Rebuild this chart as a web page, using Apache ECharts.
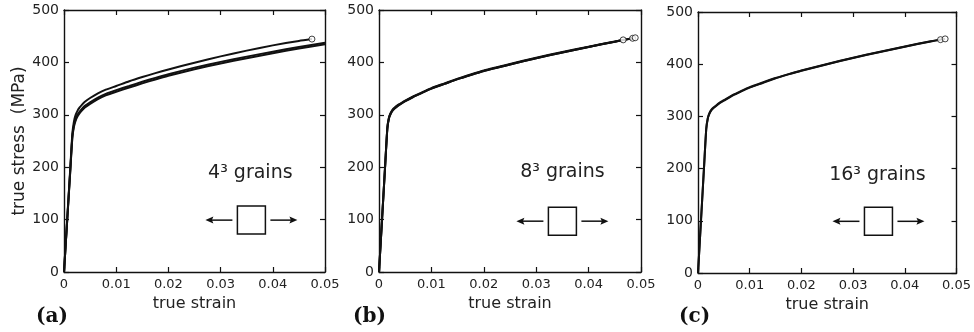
<!DOCTYPE html>
<html>
<head>
<meta charset="utf-8">
<script src="https://cdn.jsdelivr.net/npm/echarts@6/dist/echarts.min.js"></script>
<style>
  html, body { margin: 0; padding: 0; background: #fff; }
  #chart { width: 974px; height: 332px; }
</style>
</head>
<body>
<div id="chart"></div>
<script>
// strain samples shared by every curve (end point of each curve is listed separately)
const strainGrid = [0, 0.0006, 0.0012, 0.0016, 0.0019, 0.0022, 0.0026, 0.003, 0.0035, 0.004, 0.005, 0.0065, 0.008, 0.01, 0.0125, 0.015, 0.0175, 0.02, 0.025, 0.03, 0.035, 0.04, 0.045];

// (a) 4^3 grains
const stressA1 = [0, 99, 198, 264, 287, 299, 308, 314, 320, 325, 332, 341, 348, 355, 364, 372, 379.5, 386.5, 399.5, 411.5, 422.5, 432.5, 441];
const endA1 = [0.0475, 444.5];
const stressA2 = [0, 97, 194, 259, 280, 291, 300, 306, 312, 317, 324, 333, 340, 347, 355, 363, 370.5, 377.5, 390, 401, 411, 420.5, 429.5];
const endA2 = [0.05, 437.5];
const stressA3 = [0, 96, 192, 256, 277, 288, 297, 303, 309, 314, 321, 330, 337, 344, 352, 360, 367.5, 374.5, 387, 398, 408, 417.5, 426.5];
const endA3 = [0.05, 434.5];

// (b) 8^3 grains
const stressB1 = [0, 104, 208, 275, 294, 302, 309, 313, 317, 320, 326, 334, 341, 350, 359, 368, 376, 383.5, 396, 408, 419, 429.5, 439.5];
const endB1 = [0.0466, 443];
const stressB2 = [0, 103, 207, 274, 293, 301, 308, 312, 316, 320, 326, 334, 341, 350, 359, 368, 376, 383.5, 396, 408, 419, 429.5, 439.5];
const endB2 = [0.0484, 446];
const stressB3 = [0, 104, 208, 276, 295, 303, 310, 314, 318, 321, 327, 335, 342, 351, 360, 369, 377, 384.5, 397, 409, 420, 430, 440];
const endB3 = [0.0489, 447];

// (c) 16^3 grains
const stressC1 = [0, 104, 208, 276, 296, 305, 312, 316, 320, 324, 330, 339, 346, 355, 364, 373, 380.5, 387.5, 400, 412, 423, 433.5, 443.5];
const endC1 = [0.0469, 447];
const stressC2 = [0, 104, 209, 277, 297, 306, 313, 317, 321, 325, 331, 340, 347, 356, 365, 373.5, 381, 388, 400.5, 412.5, 423.5, 434, 444];
const endC2 = [0.0478, 448.5];

const xTickLabels = ["0", "0.01", "0.02", "0.03", "0.04", "0.05"];
const yTickLabels = ["0", "100", "200", "300", "400", "500"];
const grainLabels = ["4³ grains", "8³ grains", "16³ grains"];
const panelLabels = ["(a)", "(b)", "(c)"];

const panels = [
  { curves: [[stressA1, endA1, true], [stressA2, endA2, false], [stressA3, endA3, false]] },
  { curves: [[stressB1, endB1, true], [stressB2, endB2, true], [stressB3, endB3, true]] },
  { curves: [[stressC1, endC1, true], [stressC2, endC2, true]] }
];

// layout
const grids = [
  { left: 64, top: 10, width: 261, height: 262 },
  { left: 379, top: 10, width: 262, height: 262 },
  { left: 698, top: 12, width: 262, height: 261 }
];
const annoBox = [[0.0359, 99], [0.035, 97], [0.0349, 99]];
const annoText = [[0.0357, 189], [0.035, 190], [0.0347, 188]];
const panelLabelX = [36, 353, 679];

const ink = "#111";
const font = "DejaVu Sans";

const tickStyle = { inside: true, length: 5, lineStyle: { color: ink, width: 1.2 } };
const lineStyle = { color: ink, width: 1.4 };

const xAxes = [];
const yAxes = [];
const series = [];

panels.forEach((p, i) => {
  xAxes.push({
    gridIndex: i, type: "value", min: 0, max: 0.05, interval: 0.01, position: "bottom",
    axisLine: { onZero: false, lineStyle }, axisTick: tickStyle, splitLine: { show: false },
    axisLabel: {
      color: "#222", fontSize: 13, fontFamily: font, margin: 6, showMaxLabel: true,
      formatter: (v) => xTickLabels[Math.round(v / 0.01)]
    },
    name: "true strain", nameLocation: "middle", nameGap: 23,
    nameTextStyle: { color: "#222", fontSize: 16, fontFamily: font }
  });
  xAxes.push({
    gridIndex: i, type: "value", min: 0, max: 0.05, interval: 0.01, position: "top",
    axisLine: { onZero: false, lineStyle }, axisTick: tickStyle, splitLine: { show: false },
    axisLabel: { show: false }
  });
  yAxes.push({
    gridIndex: i, type: "value", min: 0, max: 500, interval: 100, position: "left",
    axisLine: { show: true, onZero: false, lineStyle }, axisTick: tickStyle, splitLine: { show: false },
    axisLabel: {
      color: "#222", fontSize: 14, fontFamily: font, margin: 5,
      formatter: (v) => yTickLabels[Math.round(v / 100)]
    },
    name: i === 0 ? "true stress  (MPa)" : "", nameLocation: "middle", nameGap: 34,
    nameTextStyle: { color: "#222", fontSize: 17, fontFamily: font }
  });
  yAxes.push({
    gridIndex: i, type: "value", min: 0, max: 500, interval: 100, position: "right",
    axisLine: { show: true, onZero: false, lineStyle }, axisTick: tickStyle, splitLine: { show: false },
    axisLabel: { show: false }
  });

  const ends = [];
  p.curves.forEach(([stress, end, marked]) => {
    const data = strainGrid.map((s, k) => [s, stress[k]]).concat([end]);
    series.push({
      type: "line", xAxisIndex: 2 * i, yAxisIndex: 2 * i, data,
      showSymbol: false, smooth: 0.2,
      lineStyle: { color: ink, width: 2 }, silent: true, animation: false
    });
    if (marked) ends.push(end);
  });
  series.push({
    type: "scatter", xAxisIndex: 2 * i, yAxisIndex: 2 * i, data: ends,
    symbol: "circle", symbolSize: 6,
    itemStyle: { color: "#fff", borderColor: ink, borderWidth: 1 },
    silent: true, animation: false, z: 3
  });
});

const chart = echarts.init(document.getElementById("chart"), null, { renderer: "canvas" });
chart.setOption({
  animation: false,
  backgroundColor: "#fff",
  grid: grids,
  xAxis: xAxes,
  yAxis: yAxes,
  series
});

// annotations: grain count, loading sketch, panel letter
const graphic = [];
panels.forEach((p, i) => {
  const [bx, by] = chart.convertToPixel({ gridIndex: i }, annoBox[i]);
  const [tx, ty] = chart.convertToPixel({ gridIndex: i }, annoText[i]);
  const st = { stroke: ink, lineWidth: 1.5, fill: null };
  graphic.push(
    { type: "text", x: tx, y: ty, style: { text: grainLabels[i], fontSize: 19, fontFamily: font, fill: "#222", align: "center", verticalAlign: "middle" } },
    { type: "rect", shape: { x: bx - 14, y: by - 14, width: 28, height: 28 }, style: { stroke: ink, lineWidth: 1.5, fill: "none" } },
    { type: "line", shape: { x1: bx - 19, y1: by, x2: bx - 41, y2: by }, style: st },
    { type: "polygon", shape: { points: [[bx - 46, by], [bx - 38, by - 3.5], [bx - 39.5, by], [bx - 38, by + 3.5]] }, style: { fill: ink } },
    { type: "line", shape: { x1: bx + 19, y1: by, x2: bx + 41, y2: by }, style: st },
    { type: "polygon", shape: { points: [[bx + 46, by], [bx + 38, by - 3.5], [bx + 39.5, by], [bx + 38, by + 3.5]] }, style: { fill: ink } },
    { type: "text", x: panelLabelX[i], y: 317, style: { text: panelLabels[i], fontSize: 20, fontWeight: "bold", fontFamily: "DejaVu Serif", fill: ink, align: "left", verticalAlign: "middle" } }
  );
});
chart.setOption({ graphic });
</script>
</body>
</html>
